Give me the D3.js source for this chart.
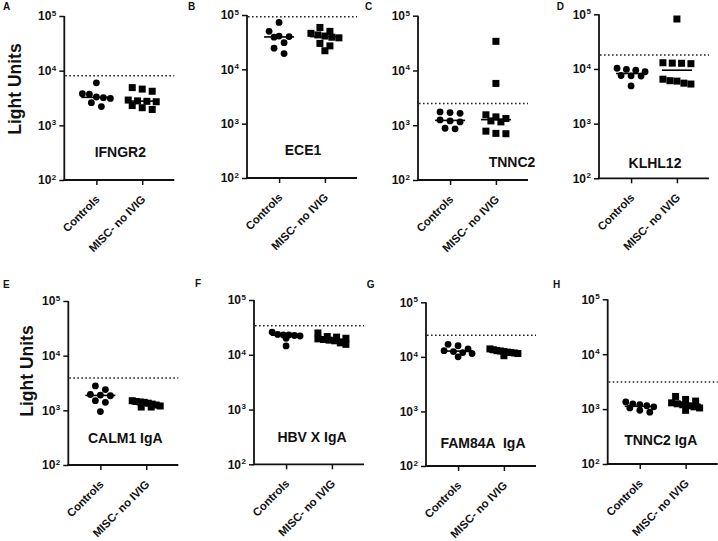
<!DOCTYPE html>
<html>
<head>
<meta charset="utf-8">
<script src="https://cdn.jsdelivr.net/npm/d3@7"></script>
<style>
  html, body { margin: 0; padding: 0; background: #fff; }
  svg { display: block; font-family: "Liberation Sans", Arial, Helvetica, sans-serif; }
</style>
</head>
<body>
<svg id="chart" width="718" height="541"></svg>
<script>
// ---------------- DATA ----------------
const categories = ["Controls", "MISC- no IVIG"];
const panelLetters = ["A", "B", "C", "D", "E", "F", "G", "H"];
const antigens = ["IFNGR2", "ECE1", "TNNC2", "KLHL12", "CALM1 IgA", "HBV X IgA", "FAM84A  IgA", "TNNC2 IgA"];
const yTickValues = [1e2, 1e3, 1e4, 1e5];
const yDomain = [1e2, 1e5];
const yAxisTitle = "Light Units";

const controlsValues = [
  [6000, 3800, 3700, 3300, 3200, 3100, 2600, 2200],
  [73000, 50000, 41000, 40000, 39000, 31000, 24500, 19500],
  [1750, 1700, 1650, 1250, 1200, 1150, 880, 860],
  [10300, 9800, 9500, 8900, 7600, 7500, 7400, 4900],
  [2800, 2400, 1950, 1900, 1850, 1500, 1400, 950],
  [26000, 23500, 23000, 23000, 22500, 22000, 20000, 14500],
  [17000, 16000, 14000, 13000, 12500, 12000, 11500, 10000],
  [1350, 1250, 1200, 1150, 1100, 1050, 950, 880]
];
const miscValues = [
  [4900, 4600, 4200, 2900, 2800, 2750, 2700, 2300, 2100, 1950],
  [59000, 50000, 46000, 43000, 41000, 39000, 38000, 30000, 27000, 22000],
  [34000, 5800, 1550, 1420, 1330, 1200, 1150, 780, 710, 700],
  [82000, 13000, 12800, 12700, 12500, 6500, 6100, 6000, 5500, 5300],
  [1500, 1450, 1420, 1400, 1350, 1300, 1250, 1200, 1150, 1150],
  [25000, 21500, 21000, 20000, 19500, 19000, 18500, 18000, 16500, 15500],
  [14000, 13500, 13000, 12800, 12500, 12200, 12000, 11800, 11500, 10500],
  [1700, 1500, 1400, 1300, 1250, 1200, 1150, 1100, 1050, 950]
];
const cutoffs = [8100, 93000, 2500, 18000, 3900, 34000, 25000, 3100];

// ---------------- LAYOUT ----------------
const axisWidth = 110;
const layout = [
  {ax: 64.3, top: 16,    bottom: 180,   lx: 3,     ly: 10,  labelDx: 56, labelDy: -23},
  {ax: 247,  top: 15,    bottom: 178,   lx: 188,   ly: 10,  labelDx: 56, labelDy: -23},
  {ax: 418,  top: 15.7,  bottom: 180,   lx: 365,   ly: 9.5, labelDx: 94, labelDy: -13},
  {ax: 599,  top: 14.3,  bottom: 178.3, lx: 556.7, ly: 10,  labelDx: 56, labelDy: -10},
  {ax: 68.3, top: 301,   bottom: 465,   lx: 3,     ly: 288, labelDx: 57, labelDy: -22},
  {ax: 254,  top: 300,   bottom: 464.3, lx: 195,   ly: 287, labelDx: 58, labelDy: -22},
  {ax: 426,  top: 302.3, bottom: 466,   lx: 366.7, ly: 288, labelDx: 57, labelDy: -18},
  {ax: 607.7,top: 299.3, bottom: 464,   lx: 553,   ly: 288, labelDx: 53, labelDy: -19}
];
const yTitlePos = {0: {x: 21, y: 89}, 4: {x: 33, y: 371}};

const svg = d3.select("#chart");
svg.append("rect").attr("width", 718).attr("height", 541).attr("fill", "#fff");

function swarm(vals, y, cx) {
  const sorted = vals.slice().sort((a, b) => b - a);
  const rows = [];
  let cur = null;
  sorted.forEach(v => {
    const py = y(v);
    if (cur && Math.abs(py - cur.y0) < 5.5) cur.items.push(v);
    else { cur = {y0: py, items: [v]}; rows.push(cur); }
  });
  const out = [];
  rows.forEach(r => {
    const n = r.items.length;
    const sp = n > 1 ? Math.min(10, 28 / (n - 1)) : 0;
    r.items.forEach((v, i) => out.push({v: v, x: cx + (i - (n - 1) / 2) * sp}));
  });
  return out;
}

layout.forEach((L, p) => {
  const g = svg.append("g");
  const y = d3.scaleLog().domain(yDomain).range([L.bottom, L.top]);
  const x = d3.scalePoint().domain(categories).range([L.ax, L.ax + axisWidth]).padding(0.7);

  // cutoff dotted line
  g.append("line")
    .attr("x1", L.ax + 1).attr("x2", L.ax + axisWidth)
    .attr("y1", y(cutoffs[p])).attr("y2", y(cutoffs[p]))
    .attr("stroke", "#222").attr("stroke-width", 1.5)
    .attr("stroke-dasharray", "1.6,2.4");

  // y axis
  const yAxis = g.append("g").attr("transform", `translate(${L.ax},0)`)
    .call(d3.axisLeft(y).tickValues(yTickValues).tickSize(5).tickPadding(3).tickFormat(() => ""));
  yAxis.select(".domain").attr("stroke", "#111").attr("stroke-width", 1.8).attr("d", `M-0,${L.bottom}V${L.top}`);
  yAxis.selectAll(".tick line").attr("stroke", "#111").attr("stroke-width", 1.5);
  yAxis.selectAll(".tick text").each(function(d) {
    const t = d3.select(this);
    t.attr("font-size", 12).attr("font-weight", "bold").attr("fill", "#111")
     .attr("font-family", '"Liberation Sans", Arial, sans-serif');
    t.append("tspan").text("10");
    t.append("tspan").attr("dx", "0.5").attr("dy", "-0.55em").attr("font-size", 8).text(Math.round(Math.log10(d)));
  });

  // x axis
  const xAxis = g.append("g").attr("transform", `translate(0,${L.bottom})`)
    .call(d3.axisBottom(x).tickSize(5).tickFormat(() => ""));
  xAxis.select(".domain").attr("stroke", "#111").attr("stroke-width", 1.8)
    .attr("d", `M${L.ax - 0.9},0H${L.ax + axisWidth}`);
  xAxis.selectAll(".tick line").attr("stroke", "#111").attr("stroke-width", 1.5);

  categories.forEach(c => {
    g.append("text")
      .attr("transform", `translate(${x(c) + 4},${L.bottom + 20}) rotate(-45)`)
      .attr("text-anchor", "end")
      .attr("font-size", 11.3).attr("font-weight", "bold").attr("fill", "#111")
      .text(c);
  });

  // points
  const ctrl = swarm(controlsValues[p], y, x(categories[0]));
  g.selectAll("circle.pt").data(ctrl).join("circle")
    .attr("class", "pt")
    .attr("cx", d => d.x).attr("cy", d => y(d.v)).attr("r", 3.4).attr("fill", "#000");
  const misc = swarm(miscValues[p], y, x(categories[1]));
  g.selectAll("rect.pt").data(misc).join("rect")
    .attr("class", "pt")
    .attr("x", d => d.x - 3.5).attr("y", d => y(d.v) - 3.5)
    .attr("width", 7).attr("height", 7).attr("fill", "#000");

  // median lines
  [controlsValues[p], miscValues[p]].forEach((vals, i) => {
    const m = d3.median(vals);
    const cx = x(categories[i]);
    g.append("line").attr("x1", cx - 15).attr("x2", cx + 15)
      .attr("y1", y(m)).attr("y2", y(m))
      .attr("stroke", "#000").attr("stroke-width", 1.6);
  });

  // antigen label
  g.append("text")
    .attr("x", L.ax + L.labelDx).attr("y", L.bottom + L.labelDy)
    .attr("text-anchor", "middle")
    .attr("font-size", 14).attr("font-weight", "bold").attr("fill", "#111")
    .style("white-space", "pre")
    .text(antigens[p]);

  // panel letter
  g.append("text")
    .attr("x", L.lx).attr("y", L.ly)
    .attr("font-size", 10).attr("font-weight", "bold").attr("fill", "#111")
    .text(panelLetters[p]);

  // y title
  if (yTitlePos[p]) {
    g.append("text")
      .attr("transform", `translate(${yTitlePos[p].x},${yTitlePos[p].y}) rotate(-90)`)
      .attr("text-anchor", "middle")
      .attr("font-size", 17.5).attr("font-weight", "bold").attr("fill", "#111")
      .text(yAxisTitle);
  }
});
</script>
</body>
</html>
